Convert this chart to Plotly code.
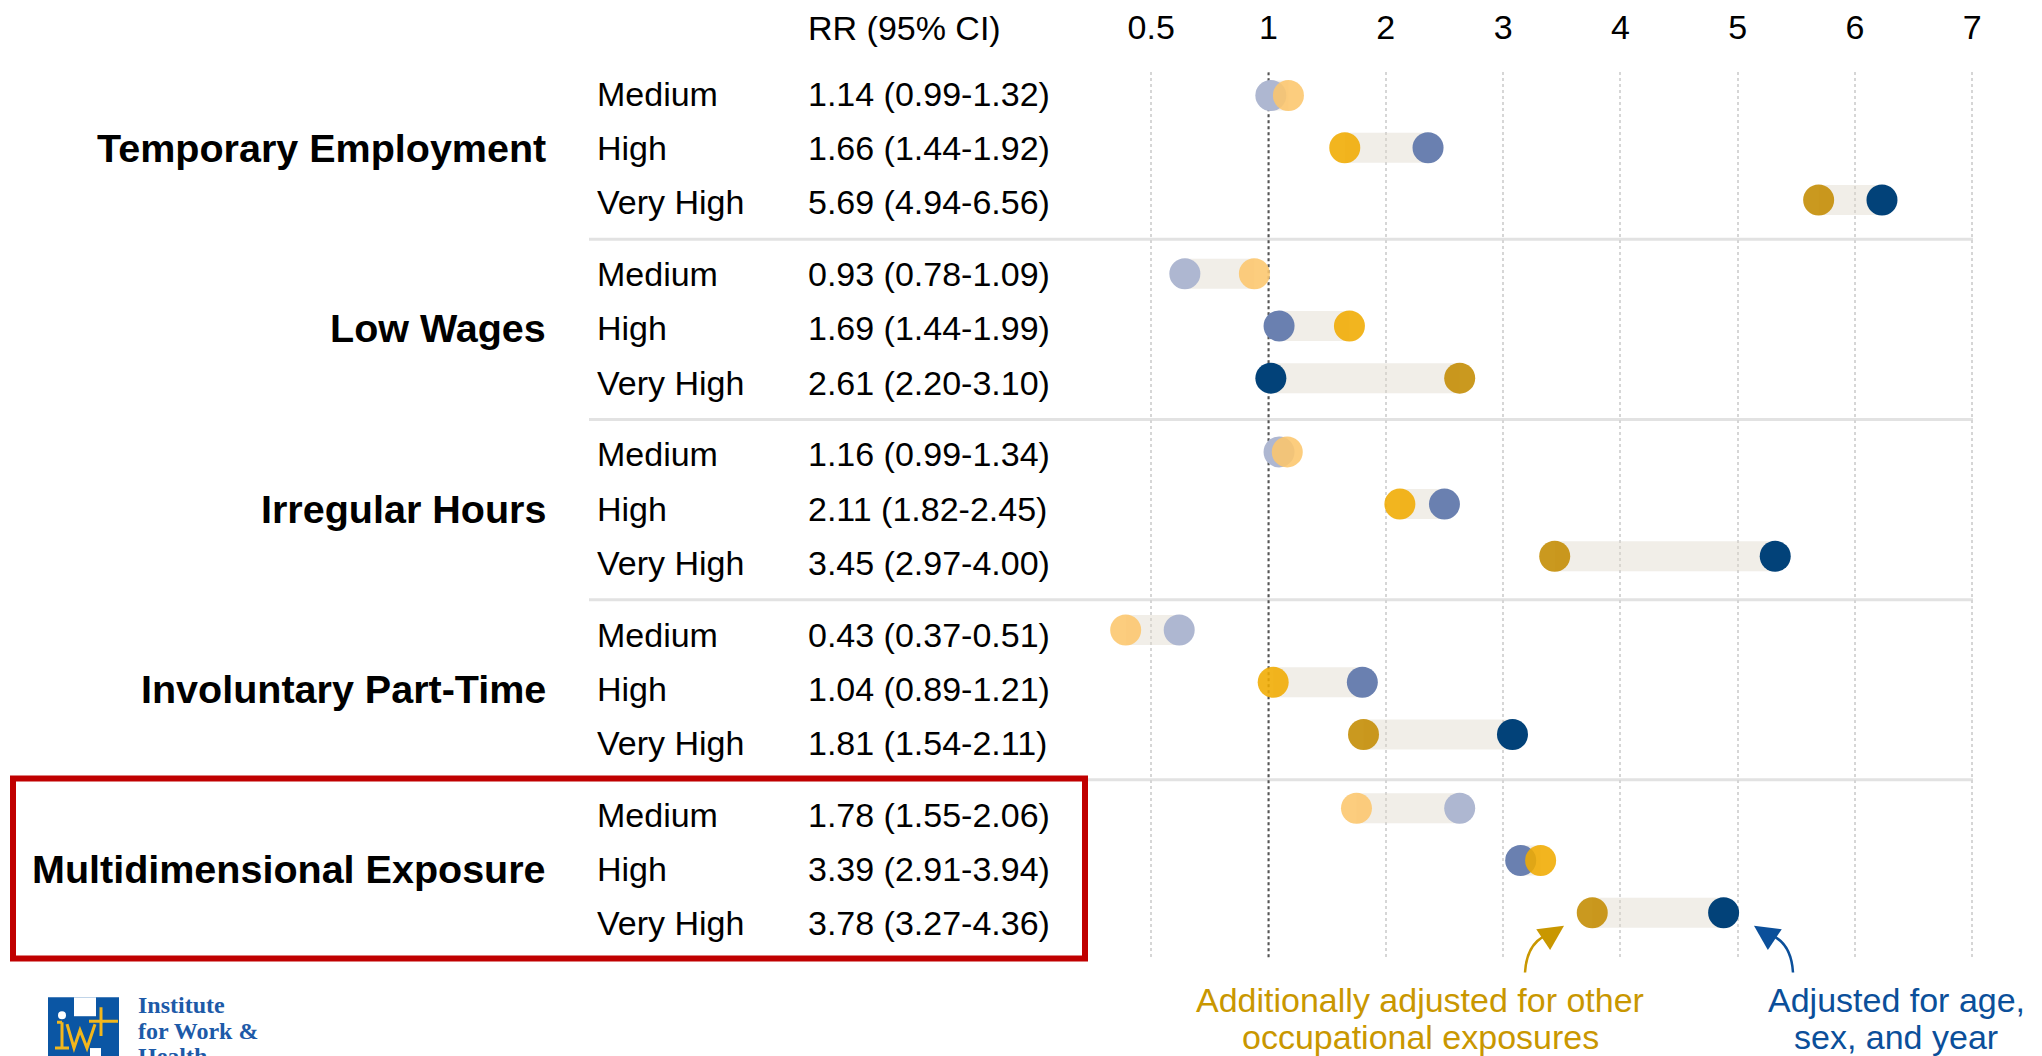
import math
import plotly.graph_objects as go

# ---------------- data ----------------
groups = ["Temporary Employment", "Low Wages", "Irregular Hours",
          "Involuntary Part-Time", "Multidimensional Exposure"]
levels = ["Medium", "High", "Very High"]
rr_labels = [
    ["1.14 (0.99-1.32)", "1.66 (1.44-1.92)", "5.69 (4.94-6.56)"],
    ["0.93 (0.78-1.09)", "1.69 (1.44-1.99)", "2.61 (2.20-3.10)"],
    ["1.16 (0.99-1.34)", "2.11 (1.82-2.45)", "3.45 (2.97-4.00)"],
    ["0.43 (0.37-0.51)", "1.04 (0.89-1.21)", "1.81 (1.54-2.11)"],
    ["1.78 (1.55-2.06)", "3.39 (2.91-3.94)", "3.78 (3.27-4.36)"],
]
# additionally adjusted for other occupational exposures (gold)
rr_full = [[1.17, 1.65, 5.69], [0.92, 1.69, 2.63], [1.16, 2.12, 3.44],
           [0.43, 1.04, 1.81], [1.75, 3.32, 3.76]]
# adjusted for age, sex and year (blue)
rr_basic = [[1.02, 2.36, 6.23], [0.61, 1.09, 1.02], [1.09, 2.50, 5.32],
            [0.59, 1.80, 3.08], [2.63, 3.15, 4.88]]
tick_values = [0.5, 1, 2, 3, 4, 5, 6, 7]
tick_text = ["0.5", "1", "2", "3", "4", "5", "6", "7"]
note_gold = ["Additionally adjusted for other", "occupational exposures"]
note_blue = ["Adjusted for age,", "sex, and year"]
header = "RR (95% CI)"
logo_text = ["Institute", "for Work &", "Health"]

# ---------------- styling ----------------
OFF = 8                      # page body margin offset
REF_W, REF_H = 2042, 1056
W, H = REF_W - OFF, REF_H - OFF
FONT = "Liberation Sans, Arial, sans-serif"
blue_cols = ["#AEB7D1", "#6A80B0", "#024279"]
gold_cols = ["#FCC66C", "#F0AB00", "#C38B00"]
BAND = "rgba(222,214,200,0.42)"

DOT_GROUP, DOT_ROW = 3.413, 1.0
TXT_GROUP, TXT_ROW = 3.452, 1.038
TXT_SHIFT = -0.03
SEP_GAP = 0.676

X1_PX, X_UNIT = 1268.5, 117.3      # pixel of RR=1 and pixels per unit
Y_TOP, Y_BOT = -0.444, 16.55


def pos(v):
    # log2 scale below 1, linear above 1
    return math.log2(v) if v < 1 else v - 1


def dot_y(g, l):
    return g * DOT_GROUP + l * DOT_ROW


def txt_y(g, l):
    return g * TXT_GROUP + l * TXT_ROW


def PX(x):
    return (x - OFF) / W


def PY(y):
    return 1 - (y - OFF) / H


fig = go.Figure()

# bands
bx, by = [], []
for g in range(len(groups)):
    for l in range(3):
        bx += [pos(rr_basic[g][l]), pos(rr_full[g][l]), None]
        by += [dot_y(g, l), dot_y(g, l), None]
fig.add_trace(go.Scatter(x=bx, y=by, mode="lines",
                         line=dict(color=BAND, width=30),
                         hoverinfo="skip", showlegend=False))

# blue dots
xs, ys, cs = [], [], []
for g in range(len(groups)):
    for l in range(3):
        xs.append(pos(rr_basic[g][l]))
        ys.append(dot_y(g, l))
        cs.append(blue_cols[l])
fig.add_trace(go.Scatter(x=xs, y=ys, mode="markers",
                         marker=dict(size=31, color=cs, line=dict(width=0)),
                         showlegend=False))

# gold dots
xs, ys, cs = [], [], []
for g in range(len(groups)):
    for l in range(3):
        xs.append(pos(rr_full[g][l]))
        ys.append(dot_y(g, l))
        cs.append(gold_cols[l])
fig.add_trace(go.Scatter(x=xs, y=ys, mode="markers",
                         marker=dict(size=31, color=cs, opacity=0.88,
                                     line=dict(width=0)),
                         showlegend=False))

annotations = []
shapes = []

# reference line at RR = 1
shapes.append(dict(type="line", xref="x", yref="y", x0=pos(1), x1=pos(1),
                   y0=Y_TOP, y1=Y_BOT,
                   line=dict(color="#555555", width=2, dash="dot"),
                   layer="between"))

# table text
for g, name in enumerate(groups):
    annotations.append(dict(x=PX(548), xref="paper", y=txt_y(g, 1) + TXT_SHIFT,
                            yref="y", text=name, showarrow=False,
                            xanchor="right", yanchor="middle",
                            font=dict(family=FONT, size=39.5, color="black",
                                      weight="bold")))
    for l, lev in enumerate(levels):
        annotations.append(dict(x=PX(595), xref="paper",
                                y=txt_y(g, l) + TXT_SHIFT, yref="y",
                                text=lev, showarrow=False, xanchor="left",
                                yanchor="middle",
                                font=dict(family=FONT, size=34, color="black")))
        annotations.append(dict(x=PX(806), xref="paper",
                                y=txt_y(g, l) + TXT_SHIFT, yref="y",
                                text=rr_labels[g][l], showarrow=False,
                                xanchor="left", yanchor="middle",
                                font=dict(family=FONT, size=34, color="black")))
    if g < len(groups) - 1:
        ys_ = txt_y(g, 2) + SEP_GAP
        shapes.append(dict(type="line", xref="paper", yref="y",
                           x0=PX(589), x1=PX(1973), y0=ys_, y1=ys_,
                           line=dict(color="#E2E2E2", width=3), layer="between"))

annotations.append(dict(x=PX(806), xref="paper", y=PY(22), yref="paper",
                        text=header, showarrow=False, xanchor="left",
                        yanchor="middle",
                        font=dict(family=FONT, size=34, color="black")))

# bottom notes
for i, t in enumerate(note_gold):
    annotations.append(dict(x=PX(1420), xref="paper", y=PY(1000 + 37 * i),
                            yref="paper", text=t, showarrow=False,
                            xanchor="center", yanchor="middle",
                            font=dict(family=FONT, size=34, color="#C99700")))
for i, t in enumerate(note_blue):
    annotations.append(dict(x=PX(1896), xref="paper", y=PY(1000 + 37 * i),
                            yref="paper", text=t, showarrow=False,
                            xanchor="center", yanchor="middle",
                            font=dict(family=FONT, size=34, color="#0B4F9A")))


# curved arrows
def qpath(p0, c, p1):
    return "M {} {} Q {} {} {} {}".format(PX(p0[0]), PY(p0[1]), PX(c[0]), PY(c[1]),
                                          PX(p1[0]), PY(p1[1]))


shapes.append(dict(type="path", xref="paper", yref="paper",
                   path=qpath((1525, 972), (1527, 938), (1554, 932)),
                   line=dict(color="#C99700", width=2.5)))
shapes.append(dict(type="path", xref="paper", yref="paper",
                   path=qpath((1793, 972), (1791, 938), (1764, 932)),
                   line=dict(color="#0B4F9A", width=2.5)))
annotations.append(dict(x=PX(1564), y=PY(925), xref="paper", yref="paper",
                        ax=-12, ay=8, text="", showarrow=True, arrowhead=2,
                        arrowsize=2.0, arrowwidth=2.5, arrowcolor="#C99700"))
annotations.append(dict(x=PX(1754), y=PY(925), xref="paper", yref="paper",
                        ax=12, ay=8, text="", showarrow=True, arrowhead=2,
                        arrowsize=2.0, arrowwidth=2.5, arrowcolor="#0B4F9A"))

# red highlight box
shapes.append(dict(type="rect", xref="paper", yref="paper",
                   x0=PX(13), x1=PX(1085), y0=PY(958), y1=PY(777),
                   line=dict(color="#C00000", width=6), fillcolor="rgba(0,0,0,0)"))

# logo
LB = "#0B56A4"
LY = "#F2B71C"
shapes.append(dict(type="rect", xref="paper", yref="paper", x0=PX(48), x1=PX(119),
                   y0=PY(1062), y1=PY(997), line=dict(width=0), fillcolor=LB))
shapes.append(dict(type="rect", xref="paper", yref="paper", x0=PX(74), x1=PX(96),
                   y0=PY(1016), y1=PY(997), line=dict(width=0), fillcolor="white"))
shapes.append(dict(type="rect", xref="paper", yref="paper", x0=PX(90), x1=PX(101),
                   y0=PY(1062), y1=PY(1048), line=dict(width=0), fillcolor="white"))
shapes.append(dict(type="circle", xref="paper", yref="paper", x0=PX(58), x1=PX(66),
                   y0=PY(1019), y1=PY(1011), line=dict(width=0), fillcolor="white"))
logo_lines = [
    "M {} {} L {} {} M {} {} L {} {} M {} {} L {} {}".format(
        PX(62), PY(1022), PX(62), PY(1048), PX(55), PY(1048), PX(69), PY(1048),
        PX(57), PY(1022), PX(62), PY(1022)),
    "M {} {} L {} {} L {} {} L {} {} L {} {}".format(
        PX(67), PY(1024), PX(74), PY(1048), PX(80), PY(1030), PX(87), PY(1048),
        PX(95), PY(1024)),
    "M {} {} L {} {} M {} {} L {} {}".format(
        PX(101), PY(1007), PX(101), PY(1036), PX(89), PY(1021), PX(118), PY(1021)),
]
for p in logo_lines:
    shapes.append(dict(type="path", xref="paper", yref="paper", path=p,
                       line=dict(color=LY, width=3)))
for i, t in enumerate(logo_text):
    annotations.append(dict(x=PX(136), xref="paper", y=PY(1005 + 25.5 * i),
                            yref="paper", text=t, showarrow=False,
                            xanchor="left", yanchor="middle",
                            font=dict(family="Liberation Serif, serif", size=24,
                                      color="#1D5AA8", weight="bold")))

x_left = (OFF - X1_PX) / X_UNIT
x_right = (REF_W - X1_PX) / X_UNIT

fig.update_layout(
    width=W, height=H,
    margin=dict(l=0, r=0, t=0, b=0),
    paper_bgcolor="white", plot_bgcolor="white",
    showlegend=False,
    xaxis=dict(range=[x_left, x_right], domain=[0, 1], side="top",
               tickvals=[pos(v) for v in tick_values], ticktext=tick_text,
               showgrid=True, gridcolor="#D6D6D6", griddash="dot", gridwidth=2,
               zeroline=False, showline=False, ticks="",
               ticklabelstandoff=26,
               tickfont=dict(family=FONT, size=34, color="black"),
               fixedrange=True),
    yaxis=dict(range=[Y_BOT, Y_TOP],
               domain=[1 - (959 - OFF) / H, 1 - (66.7 - OFF) / H],
               visible=False, showgrid=False, zeroline=False, fixedrange=True),
    annotations=annotations,
    shapes=shapes,
)

fig.write_html("out.html")
